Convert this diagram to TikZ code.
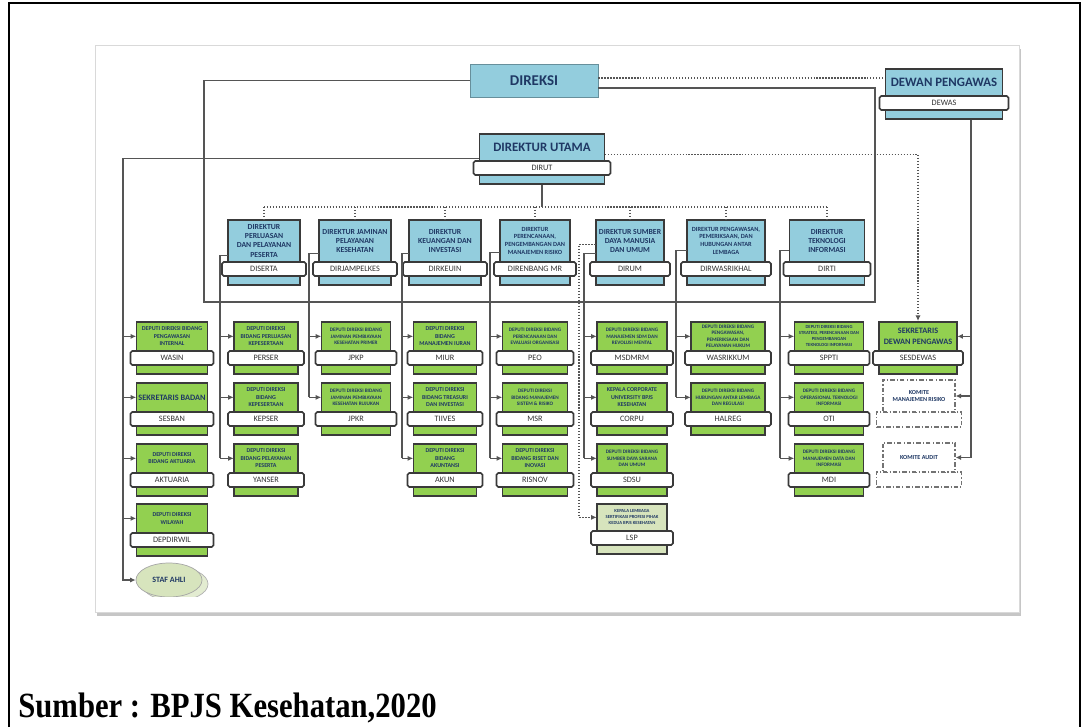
\documentclass[tikz,border=0pt]{standalone}
\usepackage{fontspec}
\newfontfamily\chartfont{Carlito}
\newfontfamily\capfont{Liberation Serif}
\usetikzlibrary{positioning, calc, arrows.meta, shapes.geometric, shadows}

\definecolor{headblue}{HTML}{93CDDD}
\definecolor{deputygreen}{HTML}{92D050}
\definecolor{palegreen}{HTML}{D7E4BD}
\definecolor{inkblue}{HTML}{1F3864}
\definecolor{edgegray}{HTML}{3A3A3A}
\definecolor{linegray}{HTML}{555555}

\newcommand{\px}{0.02cm}

\tikzset{
  body/.style={draw=edgegray, line width=0.9pt, inner sep=0pt},
  head/.style={inner sep=0.5pt, align=center, text=inkblue,
    font=\chartfont\bfseries\fontsize{3.4}{4.2}\selectfont},
  tinyhead/.style={font=\chartfont\bfseries\fontsize{2.95}{3.7}\selectfont},
  microhead/.style={font=\chartfont\bfseries\fontsize{2.65}{3.4}\selectfont},
  dirhead/.style={font=\chartfont\bfseries\fontsize{4.4}{5.3}\selectfont},
  dirsmall/.style={font=\chartfont\bfseries\fontsize{3.6}{4.5}\selectfont},
  midhead/.style={font=\chartfont\bfseries\fontsize{4.7}{5.9}\selectfont},
  bighead/.style={font=\chartfont\bfseries\fontsize{7.3}{8.5}\selectfont},
  tag/.style={draw=edgegray, line width=0.9pt, fill=white, rounded corners=1pt,
    inner sep=0pt, text=black!80, font=\chartfont\fontsize{4.7}{5}\selectfont},
  komite/.style={draw=black!55, line width=0.6pt, fill=white, align=center,
    dash pattern=on 2.5pt off 1.2pt on 0.6pt off 1.2pt, inner sep=0pt,
    text=inkblue, font=\chartfont\bfseries\fontsize{3.5}{4.5}\selectfont},
  conn/.style={draw=linegray, line width=0.7pt},
  arr/.style={conn, -{Latex[length=3.2pt,width=3pt]}},
  dots/.style={conn, densely dotted},
}

% #1 extra style, #2 name, #3 x, #4 top, #5 head height, #6 width, #7 colour, #8 text, #9 label
\newcommand{\orgunit}[9][]{%
  \node[body, fill=#7, minimum width=#6*\px, minimum height={(#5+22)*\px}, anchor=north] (#2-b) at (#3,#4) {};
  \node[head, #1, minimum width=#6*\px, minimum height=#5*\px, anchor=north] (#2) at (#3,#4) {#8};
  \node[tag, minimum width={(#6+12)*\px}, minimum height=14*\px] (#2-l) at (#3,#4+#5+7) {#9};
}

\begin{document}
\begin{tikzpicture}[x=0.02cm, y=-0.02cm]
  \useasboundingbox (0,0) rectangle (1087,727);
  \draw[black, line width=0.6pt] (9,727) -- (9,3) -- (1080,3) -- (1080,727);
  \path[fill=white, draw=black!15, line width=0.4pt,
    drop shadow={shadow xshift=1pt, shadow yshift=-2.5pt, opacity=0.45}] (95,45) rectangle (1019,612);

  % top level
  \node[fill=headblue, draw=headblue!70!black, line width=0.5pt, minimum width=128*\px,
    minimum height=33*\px, text=inkblue, font=\chartfont\bfseries\fontsize{8.5}{9}\selectfont] (direksi) at (534,80.5) {DIREKSI};
  \orgunit[bighead]{dirut}{542}{133}{28}{125}{headblue}{DIREKTUR UTAMA}{DIRUT}
  \orgunit[bighead]{dewan}{944}{68}{28}{117}{headblue}{DEWAN PENGAWAS}{DEWAS}

  % directors
  \orgunit[dirhead]{diserta}{264}{219}{43}{72}{headblue}{DIREKTUR\\PERLUASAN\\DAN PELAYANAN\\PESERTA}{DISERTA}
  \orgunit[dirhead]{dirjampelkes}{355}{219}{43}{72}{headblue}{DIREKTUR JAMINAN\\PELAYANAN\\KESEHATAN}{DIRJAMPELKES}
  \orgunit[dirhead]{dirkeuin}{445}{219}{43}{72}{headblue}{DIREKTUR\\KEUANGAN DAN\\INVESTASI}{DIRKEUIN}
  \orgunit[dirsmall]{direnbang}{535}{219}{43}{70}{headblue}{DIREKTUR\\PERENCANAAN,\\PENGEMBANGAN DAN\\MANAJEMEN RISIKO}{DIRENBANG MR}
  \orgunit[dirhead]{dirum}{630}{219}{43}{68}{headblue}{DIREKTUR SUMBER\\DAYA MANUSIA\\DAN UMUM}{DIRUM}
  \orgunit[dirsmall]{dirwasrikhal}{726}{219}{43}{78}{headblue}{DIREKTUR PENGAWASAN,\\PEMERIKSAAN, DAN\\HUBUNGAN ANTAR\\LEMBAGA}{DIRWASRIKHAL}
  \orgunit[dirhead]{dirti}{827}{219}{43}{75}{headblue}{DIREKTUR\\TEKNOLOGI\\INFORMASI}{DIRTI}

  % deputies
  \orgunit{wasin}{172}{321}{30}{71}{deputygreen}{DEPUTI DIREKSI BIDANG\\PENGAWASAN\\INTERNAL}{WASIN}
  \orgunit[midhead]{sesban}{172}{382}{30}{71}{deputygreen}{SEKRETARIS BADAN}{SESBAN}
  \orgunit{aktuaria}{172}{443}{30}{71}{deputygreen}{DEPUTI DIREKSI\\BIDANG AKTUARIA}{AKTUARIA}
  \orgunit{depdirwil}{172}{503}{30}{71}{deputygreen}{DEPUTI DIREKSI\\WILAYAH}{DEPDIRWIL}

  \orgunit{perser}{266}{321}{30}{64}{deputygreen}{DEPUTI DIREKSI\\BIDANG PERLUASAN\\KEPESERTAAN}{PERSER}
  \orgunit{kepser}{266}{382}{30}{64}{deputygreen}{DEPUTI DIREKSI\\BIDANG\\KEPESERTAAN}{KEPSER}
  \orgunit{yanser}{266}{443}{30}{64}{deputygreen}{DEPUTI DIREKSI\\BIDANG PELAYANAN\\PESERTA}{YANSER}

  \orgunit[tinyhead]{jpkp}{356}{321}{30}{69}{deputygreen}{DEPUTI DIREKSI BIDANG\\JAMINAN PEMBIAYAAN\\KESEHATAN PRIMER}{JPKP}
  \orgunit[tinyhead]{jpkr}{356}{382}{30}{69}{deputygreen}{DEPUTI DIREKSI BIDANG\\JAMINAN PEMBIAYAAN\\KESEHATAN RUJUKAN}{JPKR}

  \orgunit{miur}{445}{321}{30}{63}{deputygreen}{DEPUTI DIREKSI\\BIDANG\\MANAJEMEN IURAN}{MIUR}
  \orgunit{tiives}{445}{382}{30}{63}{deputygreen}{DEPUTI DIREKSI\\BIDANG TREASURI\\DAN INVESTASI}{TIIVES}
  \orgunit{akun}{445}{443}{30}{63}{deputygreen}{DEPUTI DIREKSI\\BIDANG\\AKUNTANSI}{AKUN}

  \orgunit[tinyhead]{peo}{535}{321}{30}{65}{deputygreen}{DEPUTI DIREKSI BIDANG\\PERENCANAAN DAN\\EVALUASI ORGANISASI}{PEO}
  \orgunit[tinyhead]{msr}{535}{382}{30}{65}{deputygreen}{DEPUTI DIREKSI\\BIDANG MANAJEMEN\\SISTEM \& RISIKO}{MSR}
  \orgunit{risnov}{535}{443}{30}{65}{deputygreen}{DEPUTI DIREKSI\\BIDANG RISET DAN\\INOVASI}{RISNOV}

  \orgunit[tinyhead]{msdmrm}{632}{321}{30}{70}{deputygreen}{DEPUTI DIREKSI BIDANG\\MANAJEMEN SDM DAN\\REVOLUSI MENTAL}{MSDMRM}
  \orgunit{corpu}{632}{382}{30}{70}{deputygreen}{KEPALA CORPORATE\\UNIVERSITY BPJS\\KESEHATAN}{CORPU}
  \orgunit[tinyhead]{sdsu}{632}{443}{30}{70}{deputygreen}{DEPUTI DIREKSI BIDANG\\SUMBER DAYA SARANA\\DAN UMUM}{SDSU}
  \orgunit[microhead]{lsp}{632}{503}{28}{70}{palegreen}{KEPALA LEMBAGA\\SERTIFIKASI PROFESI PIHAK\\KEDUA BPJS KESEHATAN}{LSP}

  \orgunit[tinyhead]{wasrikkum}{728}{321}{30}{74}{deputygreen}{DEPUTI DIREKSI BIDANG\\PENGAWASAN,\\PEMERIKSAAN DAN\\PELAYANAN HUKUM}{WASRIKKUM}
  \orgunit[tinyhead]{halreg}{728}{382}{30}{74}{deputygreen}{DEPUTI DIREKSI BIDANG\\HUBUNGAN ANTAR LEMBAGA\\DAN REGULASI}{HALREG}

  \orgunit[microhead]{sppti}{829}{321}{30}{69}{deputygreen}{DEPUTI DIREKSI BIDANG\\STRATEGI, PERENCANAAN DAN\\PENGEMBANGAN\\TEKNOLOGI INFORMASI}{SPPTI}
  \orgunit[tinyhead]{oti}{829}{382}{30}{69}{deputygreen}{DEPUTI DIREKSI BIDANG\\OPERASIONAL TEKNOLOGI\\INFORMASI}{OTI}
  \orgunit[tinyhead]{mdi}{829}{443}{30}{69}{deputygreen}{DEPUTI DIREKSI BIDANG\\MANAJEMEN DATA DAN\\INFORMASI}{MDI}

  \orgunit[midhead]{sesdewas}{918}{321}{30}{78}{deputygreen}{SEKRETARIS\\DEWAN PENGAWAS}{SESDEWAS}

  % komite
  \node[komite, minimum width=85*\px, minimum height=15*\px] (kmr-l) at (919,419.5) {};
  \node[komite, minimum width=72*\px, minimum height=32*\px] (kmr) at (919,396) {KOMITE\\MANAJEMEN RISIKO};
  \node[komite, minimum width=85*\px, minimum height=15*\px] (ka-l) at (919,479.5) {};
  \node[komite, minimum width=72*\px, minimum height=29*\px] (ka) at (919,457.5) {KOMITE AUDIT};

  % staf ahli
  \begin{scope}
    \clip (100,540) rectangle (260,596);
    \node[ellipse, fill=palegreen!70, draw=black!30, minimum width=66*\px, minimum height=34*\px] (staf-s) at (175,584) {};
    \node[ellipse, fill=palegreen, draw=black!35, minimum width=66*\px, minimum height=34*\px,
      text=inkblue, font=\chartfont\bfseries\fontsize{4.6}{5}\selectfont] (staf) at (169,580) {STAF AHLI};
  \end{scope}

  % trunk coordinates
  \coordinate (grpSW) at (204,302);
  \coordinate (grpNE) at (875,88);
  \coordinate (bus) at (0,207);
  \coordinate (t1) at (123,0);
  \coordinate (t2) at (220,0);
  \coordinate (t3) at (309,0);
  \coordinate (t4) at (402,0);
  \coordinate (t5) at (490,0);
  \coordinate (t6d) at (579,0);
  \coordinate (t6) at (584,0);
  \coordinate (t7) at (676,0);
  \coordinate (t8) at (780,0);
  \coordinate (tD) at (971,0);

  % direksi group
  \draw[conn] (direksi.west) -| (grpSW) -| (grpNE) -- (direksi.east |- grpNE);
  \draw[dots] ([yshift=0.05cm]direksi.east) -- ([yshift=0.05cm]direksi.east -| dewan.west);

  % dirut to directors
  \draw[conn, line width=1.2pt] (dirut-b.south) -- (dirut-b.south |- bus);
  \draw[dots] (diserta.north |- bus) -- (dirti.north |- bus);
  \foreach \d in {diserta,dirjampelkes,dirkeuin,direnbang,dirum,dirwasrikhal,dirti}
    \draw[dots] (\d.north |- bus) -- (\d.north);

  % dirut to left column and staf ahli
  \draw[arr] ($(dirut.south west)+(0,-3)$) -| (t1 |- staf.west) -- (staf.west);
  \foreach \n in {wasin,sesban,aktuaria,depdirwil}
    \draw[arr] (\n.west -| t1) -- (\n.west);

  % directors to deputies
  \draw[conn] ($(diserta.south west)+(0,-7)$) -| (yanser.west -| t2);
  \foreach \n in {perser,kepser,yanser}
    \draw[arr] (\n.west -| t2) -- (\n.west);
  \draw[conn] ($(dirjampelkes.south west)+(0,-9)$) -| (jpkr.west -| t3);
  \foreach \n in {jpkp,jpkr}
    \draw[arr] (\n.west -| t3) -- (\n.west);
  \draw[conn] ($(dirkeuin.south west)+(0,-9)$) -| (akun.west -| t4);
  \foreach \n in {miur,tiives,akun}
    \draw[arr] (\n.west -| t4) -- (\n.west);
  \draw[conn] ($(direnbang.south west)+(0,-10)$) -| (risnov.west -| t5);
  \foreach \n in {peo,msr,risnov}
    \draw[arr] (\n.west -| t5) -- (\n.west);
  \draw[conn] ($(dirum.south west)+(0,-9)$) -| (sdsu.west -| t6);
  \foreach \n in {msdmrm,corpu,sdsu}
    \draw[arr] (\n.west -| t6) -- (\n.west);
  \draw[arr, densely dotted] ($(dirum.south west)+(0,-18)$) -| (lsp.west -| t6d) -- (lsp.west);
  \draw[conn] ($(dirwasrikhal.south west)+(0,-12)$) -| (halreg.west -| t7);
  \foreach \n in {wasrikkum,halreg}
    \draw[arr] (\n.west -| t7) -- (\n.west);
  \draw[conn] ($(dirti.south west)+(0,-12)$) -| (mdi.west -| t8);
  \foreach \n in {sppti,oti,mdi}
    \draw[arr] (\n.west -| t8) -- (\n.west);

  % dewan pengawas
  \draw[arr] (dewan-b.south -| tD) |- (ka.east);
  \foreach \n in {sesdewas,kmr}
    \draw[arr] (\n.east -| tD) -- (\n.east);
  \draw[arr, densely dotted] ([yshift=-0.14cm]dirut.east) -| (sesdewas.north);

  % source
  \node[anchor=base west, inner sep=0pt, font=\capfont\bfseries\fontsize{18}{20}\selectfont] (source) at (18,717) {\scalebox{0.97}[1.12]{Sumber : BPJS Kesehatan,2020}};
\end{tikzpicture}
\end{document}
